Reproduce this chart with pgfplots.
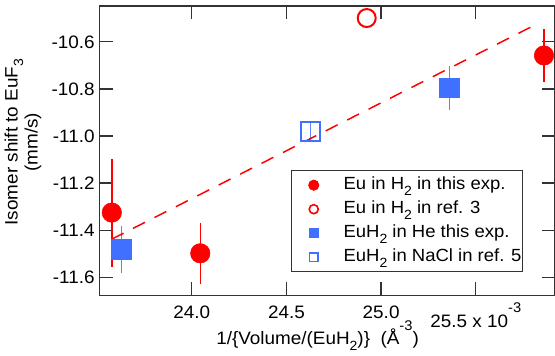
\documentclass[border=0pt]{standalone}
\usepackage{fontspec}
\setmainfont{Liberation Sans}[FakeStretch=1.05]
\usepackage{pgfplots}
\pgfplotsset{compat=1.18}
\definecolor{myblue}{RGB}{64,112,255}
\newcommand{\sub}[1]{\raisebox{-0.3em}{\fontsize{10}{10}\selectfont #1}}
\newcommand{\sups}[1]{\raisebox{0.82em}{\fontsize{10.5}{10.5}\selectfont #1}}
\begin{document}
\begin{tikzpicture}
\useasboundingbox (-74.5pt,-44.5pt) rectangle (341.8pt,221.8pt);
\begin{axis}[
  at={(0,0)}, anchor=south west,
  scale only axis, width=341.775pt, height=217.275pt,
  xmin=23.512, xmax=25.918, ymin=-11.678, ymax=-10.448,
  clip=false,
  axis line style={black!80, line width=1pt},
  tick align=inside, major tick length=10pt,
  tick style={black!80, line width=1pt},
  xtick={24.0,24.5,25.0,25.5},
  xticklabels={24.0,24.5,25.0,{\raisebox{-6.5pt}[9.7pt][0pt]{25.5 x 10\sups{-3}}}},
  ytick={-11.6,-11.4,-11.2,-11.0,-10.8,-10.6},
  yticklabels={-11.6,-11.4,-11.2,-11.0,-10.8,-10.6},
  ticklabel style={font=\fontsize{13.5}{16}\selectfont},
  xticklabel style={yshift=-4pt},
  ylabel={Isomer shift to EuF\sub{3}\\(mm/s)},
  ylabel style={at={(axis description cs:-0.1674,0.53)}, anchor=center, align=center, font=\fontsize{13.5}{11.5}\selectfont},
  xlabel={1/\{Volume/(EuH\sub{2})\}\ \ (Å\sups{-3})},
  xlabel style={at={(axis description cs:0.479,-0.170)}, anchor=base, font=\fontsize{13.5}{16}\selectfont},
  legend image code/.code={\path (-16pt,0pt) (22pt,0pt); \draw[#1] plot coordinates {(0pt,0pt)};},
  legend style={at={(axis description cs:0.420,0.434)}, anchor=north west, draw=black!80, line width=0.8pt,
    font=\fontsize{13.2}{16}\selectfont, inner xsep=0.5pt, inner ysep=2pt,
    nodes={text height=10pt, text depth=3pt, inner ysep=2.5pt, inner xsep=0pt},
    column 2/.style={nodes={text width=138pt}}},
  legend cell align=left,
]
% red filled: Eu in H2 this exp.
\addplot[forget plot, only marks, mark=*, color=red, mark size=7.3pt,
  error bars/.cd, y dir=both, y explicit, error mark=none,
  error bar style={line width=1.1pt, red}] coordinates {
  (23.578,-11.325) +- (0,0.229)
  (24.045,-11.498) +- (0,0.129)
  (25.860,-10.658) +- (0,0.112)
};
% blue filled: EuH2 in He this exp.
\addplot[forget plot, only marks, mark=square*, color=myblue, mark size=7.3pt,
  error bars/.cd, y dir=both, y explicit, error mark=none,
  error bar style={line width=0.9pt, myblue!85}] coordinates {
  (23.628,-11.481) +- (0,0.099)
  (25.361,-10.796) +- (0,0.095)
};
% red open: ref. 3
\addplot[forget plot, only marks, mark=o, color=red, mark size=6.75pt,
  mark options={line width=1.5pt}] coordinates {
  (24.924,-10.499)
};
% blue open: ref. 5
\addplot[forget plot, only marks, mark=square, color=myblue, mark size=7.1pt,
  mark options={line width=1.5pt},
  error bars/.cd, y dir=both, y explicit, error mark=none,
  error bar style={line width=0.9pt, myblue!85}] coordinates {
  (24.625,-10.982) +- (0,0.045)
};
% dashed fit line
\addplot[forget plot, red, line width=1.1pt, dash pattern=on 10pt off 8pt] coordinates {
  (23.577,-11.438) (25.816,-10.527)
};
\addlegendimage{red, mark=*, mark size=3.75pt}
\addlegendimage{red, mark=o, mark size=3.4pt, mark options={line width=1.2pt}}
\addlegendimage{myblue, mark=square*, mark size=3.5pt}
\addlegendimage{myblue, mark=square, mark size=3.2pt, mark options={line width=1.2pt}}
\legend{Eu in H\sub{2} in this exp., Eu in H\sub{2} in ref. 3, EuH\sub{2} in He this exp., EuH\sub{2} in NaCl in ref. 5}
\end{axis}
\end{tikzpicture}
\end{document}
